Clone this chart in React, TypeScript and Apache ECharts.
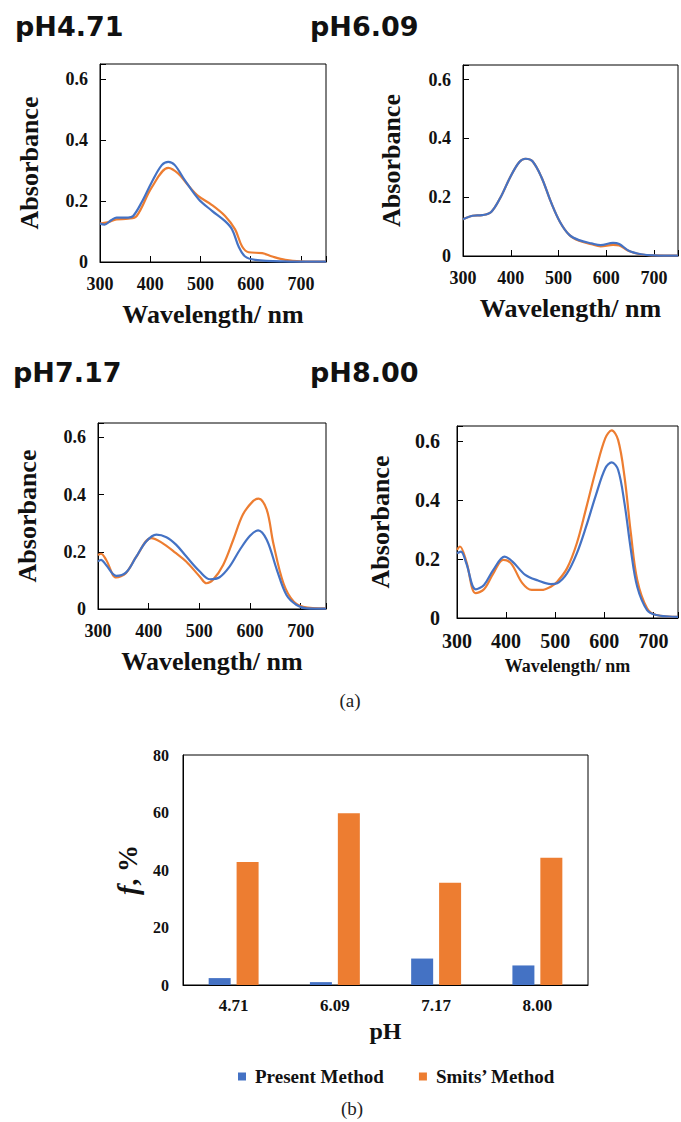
import React, { useEffect, useRef } from "react";
import * as echarts from "echarts";

// ---- Panel pH4.71 ----
const wl471Blue = [300, 309, 323, 333, 356, 366, 383, 403, 423, 436, 449, 469, 496, 523, 549, 563, 576, 589, 609, 663, 750];
const abs471Blue = [0.126, 0.123, 0.138, 0.146, 0.146, 0.151, 0.196, 0.262, 0.318, 0.329, 0.318, 0.268, 0.207, 0.168, 0.134, 0.107, 0.051, 0.018, 0.007, 0.002, 0.001];
const wl471Orange = [300, 315, 333, 356, 373, 403, 436, 456, 476, 496, 523, 549, 569, 583, 596, 623, 643, 669, 700, 750];
const abs471Orange = [0.126, 0.13, 0.14, 0.142, 0.151, 0.245, 0.309, 0.29, 0.251, 0.216, 0.187, 0.151, 0.107, 0.051, 0.032, 0.029, 0.018, 0.007, 0.002, 0.001];

// ---- Panel pH6.09 ----
const wl609 = [300, 320, 340, 359, 379, 399, 418, 431, 445, 464, 484, 503, 523, 543, 569, 588, 614, 627, 647, 673, 700, 750];
const abs609Blue = [0.125, 0.137, 0.139, 0.15, 0.201, 0.269, 0.32, 0.331, 0.323, 0.269, 0.184, 0.116, 0.071, 0.054, 0.043, 0.037, 0.045, 0.041, 0.018, 0.006, 0.002, 0.001];
const abs609Orange = [0.125, 0.137, 0.139, 0.15, 0.201, 0.269, 0.32, 0.331, 0.323, 0.269, 0.184, 0.116, 0.071, 0.052, 0.04, 0.033, 0.038, 0.036, 0.017, 0.005, 0.002, 0.001];

// ---- Panel pH7.17 ----
const wl717Blue = [300, 306, 316, 336, 355, 375, 395, 415, 435, 454, 474, 501, 521, 540, 560, 580, 600, 616, 633, 653, 672, 692, 712, 750];
const abs717Blue = [0.166, 0.172, 0.154, 0.116, 0.127, 0.181, 0.236, 0.26, 0.251, 0.225, 0.184, 0.131, 0.104, 0.111, 0.149, 0.207, 0.256, 0.275, 0.242, 0.137, 0.049, 0.014, 0.002, 0.001];
const wl717Orange = [300, 306, 316, 336, 355, 375, 405, 425, 454, 474, 501, 514, 527, 547, 567, 586, 606, 617, 633, 646, 666, 686, 705, 750];
const abs717Orange = [0.189, 0.193, 0.172, 0.11, 0.125, 0.181, 0.248, 0.233, 0.195, 0.166, 0.113, 0.09, 0.102, 0.154, 0.242, 0.33, 0.377, 0.386, 0.347, 0.23, 0.09, 0.026, 0.008, 0.002];

// ---- Panel pH8.00 ----
const wl800Blue = [300, 308, 319, 338, 355, 374, 397, 413, 439, 465, 491, 504, 524, 544, 563, 583, 602, 615, 628, 641, 654, 667, 687, 706, 732, 750];
const abs800Blue = [0.219, 0.225, 0.185, 0.097, 0.112, 0.163, 0.208, 0.191, 0.146, 0.127, 0.115, 0.118, 0.151, 0.219, 0.31, 0.417, 0.507, 0.527, 0.502, 0.389, 0.231, 0.106, 0.027, 0.01, 0.005, 0.004];
const wl800Orange = [300, 306, 319, 338, 355, 374, 394, 410, 433, 452, 472, 491, 504, 524, 544, 563, 583, 602, 615, 628, 641, 654, 667, 687, 706, 750];
const abs800Orange = [0.231, 0.242, 0.191, 0.084, 0.097, 0.151, 0.197, 0.185, 0.118, 0.095, 0.095, 0.106, 0.123, 0.168, 0.253, 0.372, 0.502, 0.609, 0.635, 0.603, 0.479, 0.287, 0.129, 0.033, 0.01, 0.004];

// ---- Bar chart (b) ----
const phCategories = ["4.71", "6.09", "7.17", "8.00"];
const presentMethod = [2.4, 1.0, 9.2, 6.8];
const smitsMethod = [42.8, 59.7, 35.6, 44.3];

const panelTitles = ["pH4.71", "pH6.09", "pH7.17", "pH8.00"];

const BLUE = "#4472C4";
const ORANGE = "#ED7D31";
const SERIF = '"Liberation Serif", "Times New Roman", serif';
const INK = "#111";

const pairs = (xs: number[], ys: number[]) => xs.map((x, i) => [x, ys[i]]);

export default function App() {
  const ref = useRef<HTMLDivElement>(null);

  useEffect(() => {
    if (!ref.current) return;
    const chart = echarts.init(ref.current, null, { renderer: "svg" });

    const grids = [
      { left: 100, top: 64, width: 226, height: 198 },
      { left: 463, top: 65, width: 230, height: 191 },
      { left: 98, top: 423, width: 228, height: 186 },
      { left: 457, top: 426, width: 230, height: 192 },
      { left: 183, top: 755, width: 405, height: 230 },
    ].map((g) => ({ ...g, show: true, borderColor: "#000", borderWidth: 1, backgroundColor: "transparent" }));

    const tickFs = [18, 18, 18, 20];
    const nameFs = [26, 26, 26, 18];
    const yNameGap = [58, 59, 58, 64];
    const yLabelMargin = [12, 12, 12, 17];

    const xAxes: any[] = [0, 1, 2, 3].map((i) => ({
      type: "value",
      gridIndex: i,
      min: 300,
      max: 750,
      interval: 100,
      name: "Wavelength/ nm",
      nameLocation: "middle",
      nameGap: 39,
      nameTextStyle: { fontFamily: SERIF, fontWeight: "bold", fontSize: nameFs[i], color: INK },
      axisLine: { show: true, lineStyle: { color: "#000", width: 1 } },
      axisTick: { show: true, inside: true, length: 6, lineStyle: { color: "#000" } },
      splitLine: { show: false },
      axisLabel: {
        margin: 13,
        fontFamily: SERIF,
        fontWeight: "bold",
        fontSize: tickFs[i],
        color: INK,
        formatter: (v: number) => (v % 100 === 0 && v <= 700 ? String(v) : ""),
      },
    }));
    xAxes.push({
      type: "category",
      gridIndex: 4,
      data: phCategories,
      name: "pH",
      nameLocation: "middle",
      nameGap: 34,
      nameTextStyle: { fontFamily: SERIF, fontWeight: "bold", fontSize: 24, color: INK },
      axisLine: { show: true, lineStyle: { color: "#000" } },
      axisTick: { show: false },
      axisLabel: { margin: 12, fontFamily: SERIF, fontWeight: "bold", fontSize: 17, color: INK },
    });

    const yAxes: any[] = [0, 1, 2, 3].map((i) => ({
      type: "value",
      gridIndex: i,
      min: 0,
      max: 0.65,
      interval: 0.2,
      name: "Absorbance",
      nameLocation: "middle",
      nameRotate: 90,
      nameGap: yNameGap[i],
      nameTextStyle: { fontFamily: SERIF, fontWeight: "bold", fontSize: 26, color: INK },
      axisLine: { show: true, lineStyle: { color: "#000", width: 1 } },
      axisTick: { show: true, inside: true, length: 6, lineStyle: { color: "#000" } },
      splitLine: { show: false },
      axisLabel: {
        margin: yLabelMargin[i],
        fontFamily: SERIF,
        fontWeight: "bold",
        fontSize: tickFs[i],
        color: INK,
        formatter: (v: number) => {
          const k = Math.round(v * 5);
          if (Math.abs(v * 5 - k) > 1e-6) return "";
          return k === 0 ? "0" : (k * 0.2).toFixed(1);
        },
      },
    }));
    yAxes.push({
      type: "value",
      gridIndex: 4,
      min: 0,
      max: 80,
      interval: 20,
      name: "{i|f}, %",
      nameLocation: "middle",
      nameRotate: 90,
      nameGap: 31,
      nameTextStyle: {
        fontFamily: SERIF,
        fontWeight: "bold",
        fontSize: 27,
        color: INK,
        rich: { i: { fontFamily: SERIF, fontStyle: "italic", fontWeight: "bold", fontSize: 29, color: INK } },
      },
      axisLine: { show: true, lineStyle: { color: "#000" } },
      axisTick: { show: false },
      splitLine: { show: false },
      axisLabel: { margin: 14, fontFamily: SERIF, fontWeight: "bold", fontSize: 16, color: INK },
    });

    const lineSeries = (name: string, idx: number, xs: number[], ys: number[], color: string) => ({
      name,
      type: "line",
      xAxisIndex: idx,
      yAxisIndex: idx,
      data: pairs(xs, ys),
      showSymbol: false,
      smooth: 0.35,
      silent: true,
      lineStyle: { color, width: 2.2 },
      itemStyle: { color },
      z: color === BLUE ? 3 : 2,
    });

    const series: any[] = [
      lineSeries("o471", 0, wl471Orange, abs471Orange, ORANGE),
      lineSeries("b471", 0, wl471Blue, abs471Blue, BLUE),
      lineSeries("o609", 1, wl609, abs609Orange, ORANGE),
      lineSeries("b609", 1, wl609, abs609Blue, BLUE),
      lineSeries("o717", 2, wl717Orange, abs717Orange, ORANGE),
      lineSeries("b717", 2, wl717Blue, abs717Blue, BLUE),
      lineSeries("o800", 3, wl800Orange, abs800Orange, ORANGE),
      lineSeries("b800", 3, wl800Blue, abs800Blue, BLUE),
      {
        name: "Present Method",
        type: "bar",
        xAxisIndex: 4,
        yAxisIndex: 4,
        data: presentMethod,
        barWidth: 22,
        barGap: "27%",
        itemStyle: { color: BLUE },
      },
      {
        name: "Smits’ Method",
        type: "bar",
        xAxisIndex: 4,
        yAxisIndex: 4,
        data: smitsMethod,
        barWidth: 22,
        barGap: "27%",
        itemStyle: { color: ORANGE },
      },
    ];

    const titlePos = [
      [15, 26],
      [310, 26],
      [13, 372],
      [310, 372],
    ];
    const graphic: any[] = panelTitles.map((t, i) => ({
      type: "text",
      x: titlePos[i][0],
      y: titlePos[i][1],
      style: {
        text: t,
        fontFamily: '"DejaVu Sans", sans-serif',
        fontWeight: "bold",
        fontSize: 27,
        fill: INK,
        verticalAlign: "middle",
        align: "left",
      },
    }));
    graphic.push(
      {
        type: "text",
        x: 350,
        y: 700,
        style: { text: "(a)", fontFamily: SERIF, fontSize: 19, fill: "#222", align: "center", verticalAlign: "middle" },
      },
      {
        type: "text",
        x: 352,
        y: 1108,
        style: { text: "(b)", fontFamily: SERIF, fontSize: 19, fill: "#222", align: "center", verticalAlign: "middle" },
      }
    );

    chart.setOption({
      animation: false,
      textStyle: { fontFamily: SERIF },
      grid: grids,
      xAxis: xAxes,
      yAxis: yAxes,
      series,
      legend: {
        data: ["Present Method", "Smits’ Method"],
        left: 233,
        top: 1062,
        icon: "rect",
        itemWidth: 8,
        itemHeight: 8,
        itemGap: 35,
        selectedMode: false,
        textStyle: { fontFamily: SERIF, fontWeight: "bold", fontSize: 19, color: INK, padding: [0, 0, 0, 4] },
      },
      graphic,
    });

    return () => chart.dispose();
  }, []);

  return (
    <div
      ref={ref}
      style={{ position: "absolute", left: 0, top: 0, width: 681, height: 1122, background: "#fff" }}
    />
  );
}
